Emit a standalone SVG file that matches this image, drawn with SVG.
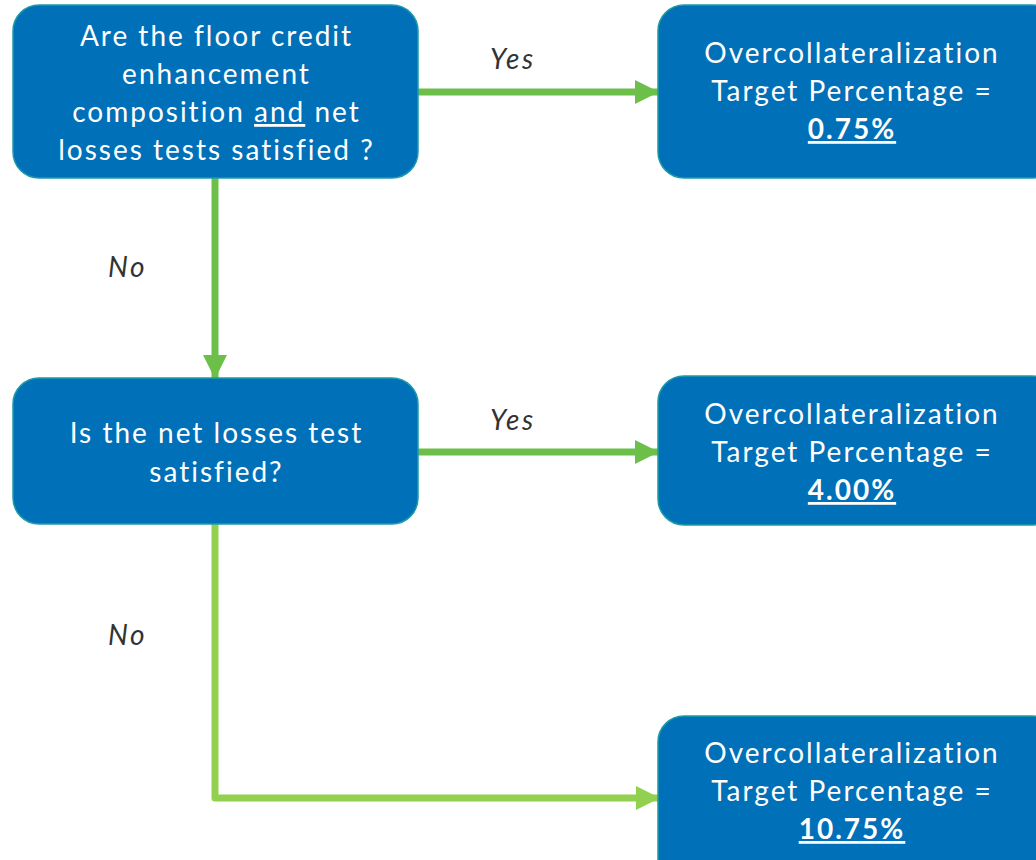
<svg xmlns="http://www.w3.org/2000/svg" width="1036" height="860" viewBox="0 0 1036 860">
<style>
.box{fill:#0070b8;stroke:#1f9aa6;stroke-width:1.5}
.t{font-family:Lato,"Liberation Sans",sans-serif;font-size:28px;letter-spacing:2px;font-variant-ligatures:none;fill:#ffffff;text-anchor:middle}
.b{font-weight:bold;text-decoration:underline}
.lbl{font-family:Lato,"Liberation Sans",sans-serif;font-size:28px;letter-spacing:2.5px;font-style:italic;fill:#333333}
.c1{stroke:#6cc04a;stroke-width:7;fill:none}
.c2{stroke:#92d050;stroke-width:7;fill:none;stroke-linejoin:round}
</style>
<defs>
<marker id="a1" markerUnits="userSpaceOnUse" markerWidth="24" markerHeight="24" refX="23" refY="12" orient="auto"><path d="M0,0 L24,12 L0,24 Z" fill="#6cc04a"/></marker>
<marker id="a2" markerUnits="userSpaceOnUse" markerWidth="24" markerHeight="24" refX="23" refY="12" orient="auto"><path d="M0,0 L24,12 L0,24 Z" fill="#92d050"/></marker>
</defs>
<g id="connectors">
<path class="c1" d="M418,92 H658" marker-end="url(#a1)"/>
<path class="c1" d="M215,178 V378" marker-end="url(#a1)"/>
<path class="c1" d="M418,452 H658" marker-end="url(#a1)"/>
<path class="c2" d="M215,524 V798 H659" marker-end="url(#a2)"/>
<text class="lbl" x="490" y="69">Yes</text>
<text class="lbl" x="108" y="277">No</text>
<text class="lbl" x="490" y="430">Yes</text>
<text class="lbl" x="108" y="645">No</text>
</g>
<g id="q1">
<rect class="box" x="13" y="5" width="405" height="173" rx="26"/>
<text class="t" x="216.5" y="46">Are the floor credit</text>
<text class="t" x="216.5" y="84">enhancement</text>
<text class="t" x="216.5" y="122">composition <tspan text-decoration="underline">and</tspan> net</text>
<text class="t" x="216.5" y="160">losses tests satisfied ?</text>
</g>
<g id="r1">
<rect class="box" x="658" y="5" width="400" height="173" rx="26"/>
<text class="t" x="852" y="63">Overcollateralization</text>
<text class="t" x="852" y="101">Target Percentage =</text>
<text class="t b" x="852" y="139">0.75%</text>
</g>
<g id="q2">
<rect class="box" x="13" y="378" width="405" height="146" rx="26"/>
<text class="t" x="216.5" y="443">Is the net losses test</text>
<text class="t" x="216.5" y="482">satisfied?</text>
</g>
<g id="r2">
<rect class="box" x="658" y="376" width="400" height="149" rx="26"/>
<text class="t" x="852" y="424">Overcollateralization</text>
<text class="t" x="852" y="462">Target Percentage =</text>
<text class="t b" x="852" y="500">4.00%</text>
</g>
<g id="r3">
<rect class="box" x="658" y="716" width="400" height="170" rx="26"/>
<text class="t" x="852" y="763">Overcollateralization</text>
<text class="t" x="852" y="801">Target Percentage =</text>
<text class="t b" x="852" y="839">10.75%</text>
</g>
</svg>
